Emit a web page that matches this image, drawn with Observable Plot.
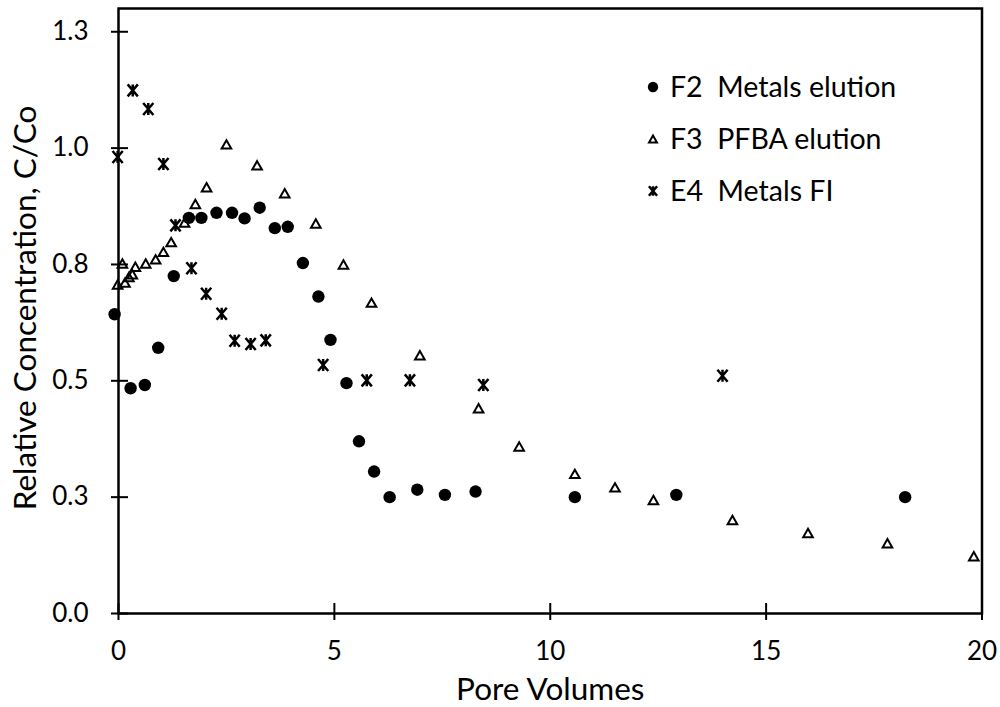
<!DOCTYPE html>
<html>
<head>
<meta charset="utf-8">
<script src="https://cdn.jsdelivr.net/npm/d3@7"></script>
<script src="https://cdn.jsdelivr.net/npm/@observablehq/plot@0.6"></script>
<style>
  html, body { margin: 0; padding: 0; background: #fff; }
  #chart { position: relative; width: 1000px; height: 707px; }
  text { white-space: pre; }
</style>
</head>
<body>
<div id="chart"></div>
<script>
// ---- Data ----
const f2X = [-0.09, 0.28, 0.61, 0.92, 1.28, 1.63, 1.92, 2.27, 2.63, 2.92, 3.27, 3.62, 3.92, 4.27, 4.63, 4.91, 5.28, 5.57, 5.92, 6.28, 6.92, 7.56, 8.27, 10.57, 12.92, 18.22];
const f2Y = [0.643, 0.484, 0.491, 0.571, 0.725, 0.850, 0.850, 0.861, 0.861, 0.849, 0.872, 0.828, 0.831, 0.753, 0.681, 0.588, 0.495, 0.370, 0.305, 0.250, 0.266, 0.255, 0.262, 0.250, 0.255, 0.250];

const f3X = [-0.02, 0.09, 0.15, 0.24, 0.32, 0.39, 0.63, 0.86, 1.04, 1.22, 1.53, 1.78, 2.04, 2.50, 3.21, 3.85, 4.57, 5.21, 5.86, 6.98, 8.34, 9.28, 10.57, 11.50, 12.39, 14.22, 15.97, 17.81, 19.81];
const f3Y = [0.707, 0.752, 0.711, 0.723, 0.729, 0.745, 0.752, 0.761, 0.777, 0.798, 0.840, 0.880, 0.916, 1.008, 0.963, 0.903, 0.838, 0.750, 0.668, 0.555, 0.441, 0.359, 0.300, 0.271, 0.244, 0.201, 0.173, 0.151, 0.123];

const e4X = [-0.02, 0.33, 0.69, 1.04, 1.32, 1.69, 2.03, 2.39, 2.69, 3.06, 3.41, 4.74, 5.75, 6.75, 8.45, 13.99];
const e4Y = [0.981, 1.124, 1.084, 0.966, 0.834, 0.742, 0.687, 0.644, 0.586, 0.579, 0.587, 0.534, 0.501, 0.501, 0.491, 0.511];

const seriesNames = ["F2  Metals elution", "F3  PFBA elution", "E4  Metals FI"];
const xTicks = [0, 5, 10, 15, 20];
const xTickLabels = ["0", "5", "10", "15", "20"];
const yTicks = [0, 0.25, 0.5, 0.75, 1.0, 1.25];
const yTickLabels = ["0.0", "0.3", "0.5", "0.8", "1.0", "1.3"];
const xTitle = "Pore Volumes";
const yTitle = "Relative Concentration, C/Co";

// ---- Tables built from the arrays ----
const f2 = f2X.map((x, i) => ({x, y: f2Y[i]}));
const f3 = f3X.map((x, i) => ({x, y: f3Y[i]}));
const e4 = e4X.map((x, i) => ({x, y: e4Y[i]}));

// ---- Custom marker shapes ----
const triSymbol = {
  draw(ctx, size) {
    const r = Math.sqrt(size / Math.PI);
    const w = r * 1.2, h = r * 1.05;
    ctx.moveTo(0, -h); ctx.lineTo(w, h); ctx.lineTo(-w, h); ctx.closePath();
  }
};
const starSymbol = {
  draw(ctx, size) {
    const r = Math.sqrt(size / Math.PI);
    const w = r * 0.85, h = r * 1.0;
    ctx.moveTo(-w, -h); ctx.lineTo(w, h);
    ctx.moveTo(-w, h); ctx.lineTo(w, -h);
    ctx.moveTo(0, -h); ctx.lineTo(0, h);
  }
};

const FONT = "Lato, 'Open Sans', sans-serif";
const FS = 26;
const TFS = 31.5;

const chart = Plot.plot({
  width: 1000,
  height: 707,
  marginLeft: 118,
  marginRight: 18.5,
  marginTop: 8,
  marginBottom: 94,
  style: {fontFamily: FONT, fontSize: FS + "px", color: "#000", background: "#fff"},
  x: {domain: [0, 20]},
  y: {domain: [0, 1.3]},
  marks: [
    Plot.frame({stroke: "#000", strokeWidth: 2.5}),
    // tick labels
    Plot.axisY(yTicks, {tickSize: 0, tickPadding: 30, tickFormat: d => yTickLabels[yTicks.indexOf(d)], fontSize: FS, label: null}),
    Plot.axisX(xTicks, {tickSize: 0, tickPadding: 28, tickFormat: d => xTickLabels[xTicks.indexOf(d)], fontSize: FS, label: null}),
    // crossing tick marks
    Plot.axisY(yTicks, {tickSize: 17, dx: 10, strokeWidth: 2, tickFormat: () => "", label: null}),
    Plot.axisX(xTicks, {tickSize: 17, dy: -10, strokeWidth: 2, tickFormat: () => "", label: null}),
    // axis titles
    Plot.text([xTitle], {frameAnchor: "bottom", dy: 64, lineAnchor: "top", textAnchor: "middle", fontSize: TFS, text: d => d}),
    Plot.text([yTitle], {frameAnchor: "left", dx: -93, dy: -3, rotate: -90, textAnchor: "middle", lineAnchor: "middle", fontSize: TFS, text: d => d}),
    // series
    Plot.dot(f3, {x: "x", y: "y", symbol: triSymbol, r: 4, fill: "none", stroke: "#000", strokeWidth: 2}),
    Plot.dot(f2, {x: "x", y: "y", symbol: "circle", r: 6.2, fill: "#000", stroke: "none"}),
    Plot.dot(e4, {x: "x", y: "y", symbol: starSymbol, r: 6, fill: "none", stroke: "#000", strokeWidth: 2.5})
  ]
});

document.getElementById("chart").appendChild(chart);

// ---- Legend (inside the plot area, upper right) ----
const svg = d3.select(chart);
const legend = svg.append("g").attr("font-family", FONT).attr("font-size", 28.5).attr("text-anchor", "start");
const legendRows = [
  {name: seriesNames[0], sym: d3.symbol(d3.symbolCircle, Math.PI * 5.2 * 5.2), fill: "#000", stroke: "none", sw: 0},
  {name: seriesNames[1], sym: d3.symbol(triSymbol, Math.PI * 3.3 * 3.3), fill: "none", stroke: "#000", sw: 2},
  {name: seriesNames[2], sym: d3.symbol(starSymbol, Math.PI * 4.8 * 4.8), fill: "none", stroke: "#000", sw: 2.5}
];
legendRows.forEach((row, i) => {
  const g = legend.append("g").attr("transform", `translate(653,${87 + i * 52})`);
  g.append("path").attr("d", row.sym()).attr("fill", row.fill).attr("stroke", row.stroke).attr("stroke-width", row.sw);
  g.append("text").attr("x", 17).attr("dy", "0.35em").attr("fill", "#000").attr("text-anchor", "start").text(row.name);
});
</script>
</body>
</html>
